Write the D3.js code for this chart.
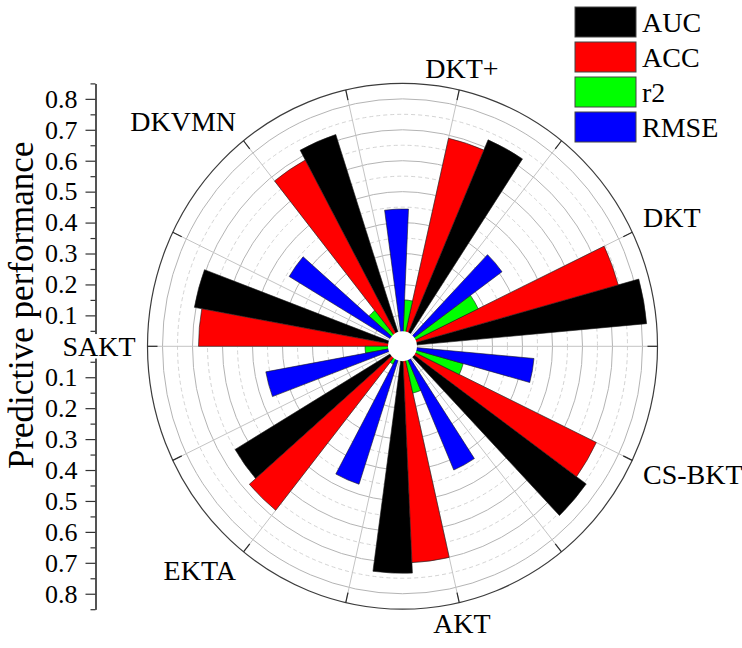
<!DOCTYPE html>
<html>
<head>
<meta charset="utf-8">
<script src="https://cdn.jsdelivr.net/npm/d3@7"></script>
<style>
  html, body { margin: 0; padding: 0; background: #fff; }
  svg { display: block; font-family: "Liberation Serif", "DejaVu Serif", serif; }
</style>
</head>
<body>
<svg id="chart" width="742" height="648"></svg>
<script>
// Knowledge-tracing models around the circle (clockwise from the top)
const categories = ["DKT+", "DKT", "CS-BKT", "AKT", "EKTA", "SAKT", "DKVMN"];
// Metric series, legend order
const seriesNames = ["AUC", "ACC", "r2", "RMSE"];
const seriesColors = ["#000000", "#ff0000", "#00ff00", "#0000ff"];
const aucValues  = [0.726, 0.817, 0.757, 0.734, 0.650, 0.705, 0.720];
const accValues  = [0.690, 0.746, 0.717, 0.700, 0.678, 0.680, 0.684];
const r2Values   = [0.150, 0.280, 0.210, 0.155, 0.066, 0.125, 0.148];
const rmseValues = [0.444, 0.410, 0.440, 0.435, 0.469, 0.463, 0.440];
// Radial axis ticks
const majorTicks = [0.1, 0.2, 0.3, 0.4, 0.5, 0.6, 0.7, 0.8];
const minorTicks = [0.05, 0.15, 0.25, 0.35, 0.45, 0.55, 0.65, 0.75, 0.85];
const radialMax = 0.85;

const seriesValues = [aucValues, accValues, r2Values, rmseValues];

const svg = d3.select("#chart");
const cx = 402.5, cy = 346.3, R = 255, ky = 1.031;
const toRad = Math.PI / 180;

const r = d3.scaleLinear().domain([0, radialMax]).range([0, R]);

// Angular layout: one band per model, four adjacent bars with one empty slot between groups
const step = 360 / categories.length;
const angle = d3.scaleBand().domain(categories).range([-step / 4, 360 - step / 4]).padding(0);
const sub = d3.scaleBand().domain(["RMSE", "r2", "ACC", "AUC"]).range([0, step])
  .paddingInner(0).paddingOuter(0.5);

const polar = svg.append("g").attr("transform", `translate(${cx},${cy}) scale(1,${ky})`);

// Concentric grid circles
polar.selectAll("circle.minor").data(minorTicks.filter(v => v < radialMax)).join("circle")
  .attr("r", d => r(d)).attr("fill", "none").attr("stroke", "#d4d4d4")
  .attr("stroke-width", 1).attr("stroke-dasharray", "4,3")
  .attr("vector-effect", "non-scaling-stroke");
polar.selectAll("circle.major").data(majorTicks).join("circle")
  .attr("r", d => r(d)).attr("fill", "none").attr("stroke", "#b4b4b4")
  .attr("stroke-width", 1).attr("vector-effect", "non-scaling-stroke");

// Spokes at every category centre and boundary
const spokeAngles = d3.range(categories.length * 2).map(k => step / 4 + k * step / 2);
polar.selectAll("line.spoke").data(spokeAngles).join("line")
  .attr("x1", 0).attr("y1", 0)
  .attr("x2", d => R * Math.sin(d * toRad)).attr("y2", d => -R * Math.cos(d * toRad))
  .attr("stroke", "#c4c4c4").attr("stroke-width", 1)
  .attr("vector-effect", "non-scaling-stroke");

// Bars
const arc = d3.arc();
const bars = [];
categories.forEach((c, i) => {
  seriesNames.forEach((s, j) => {
    const a0 = angle(c) + sub(s);
    bars.push({
      cat: c, series: s, color: seriesColors[j], value: seriesValues[j][i],
      start: a0 * toRad, end: (a0 + sub.bandwidth()) * toRad
    });
  });
});
polar.selectAll("path.bar").data(bars).join("path")
  .attr("class", "bar")
  .attr("d", d => arc({ innerRadius: 0, outerRadius: r(d.value), startAngle: d.start, endAngle: d.end }))
  .attr("fill", d => d.color)
  .attr("stroke", "#1a1a1a").attr("stroke-width", 0.6)
  .attr("vector-effect", "non-scaling-stroke");

// Centre hole
polar.append("circle").attr("r", 14.5).attr("fill", "#fff");

// Outer ring and angular ticks
polar.append("circle").attr("r", R).attr("fill", "none")
  .attr("stroke", "#3c3c3c").attr("stroke-width", 1.2)
  .attr("vector-effect", "non-scaling-stroke");
polar.selectAll("line.atick").data(spokeAngles).join("line")
  .attr("x1", d => (R - 10) * Math.sin(d * toRad)).attr("y1", d => -(R - 10) * Math.cos(d * toRad))
  .attr("x2", d => R * Math.sin(d * toRad)).attr("y2", d => -R * Math.cos(d * toRad))
  .attr("stroke", "#2a2a2a").attr("stroke-width", 1.2)
  .attr("vector-effect", "non-scaling-stroke");

// Vertical radial axis on the left, mirrored about the centre
const axisX = 95.5;
const yUp = d3.scaleLinear().domain([0, radialMax]).range([cy, cy - R * ky]);
const yDown = d3.scaleLinear().domain([0, radialMax]).range([cy, cy + R * ky]);
const fmt = d3.format(".1f");
[yUp, yDown].forEach(sc => {
  const gMaj = svg.append("g").attr("transform", `translate(${axisX},0)`)
    .call(d3.axisLeft(sc).tickValues(majorTicks).tickFormat(fmt).tickSize(10).tickSizeOuter(0).tickPadding(8));
  const gMin = svg.append("g").attr("transform", `translate(${axisX},0)`)
    .call(d3.axisLeft(sc).tickValues(minorTicks).tickFormat("").tickSize(5).tickSizeOuter(0));
  [gMaj, gMin].forEach(g => {
    g.select(".domain").attr("stroke", "#333").attr("stroke-width", 1.2);
    g.selectAll(".tick line").attr("stroke", "#333").attr("stroke-width", 1.2);
  });
  gMaj.selectAll(".tick text")
    .attr("font-family", "Liberation Serif, serif").attr("font-size", 26).attr("fill", "#000");
});

// Axis title
svg.append("text")
  .attr("transform", `translate(33,${cy - 41}) rotate(-90)`)
  .attr("text-anchor", "middle")
  .attr("font-size", 35).attr("fill", "#000")
  .text("Predictive performance");

// Category labels: anchored just outside the ring, aligned away from it
const labelFont = 28, labelR = R + 12, capH = labelFont * 0.66;
categories.forEach(c => {
  const th = (angle(c) + angle.bandwidth() / 2) * toRad;
  const ux = Math.sin(th), uy = -Math.cos(th);
  const ax = cx + labelR * ux, ay = cy + labelR * uy * ky;
  const anchor = Math.abs(ux) < 0.4 ? "middle" : (ux > 0 ? "start" : "end");
  const y = uy < -0.3 ? ay : (uy > 0.3 ? ay + capH : ay + capH / 2);
  const bg = svg.append("rect").attr("fill", "#fff");
  const t = svg.append("text").attr("text-anchor", anchor)
    .attr("x", ax).attr("y", y)
    .attr("font-size", labelFont).attr("fill", "#000").text(c);
  // white backing so a label sits cleanly over the radial axis line
  const b = t.node().getBBox();
  bg.attr("x", b.x - 1).attr("y", y - capH - 3).attr("width", b.width + 2).attr("height", capH + 6);
});

// Legend
const legend = svg.append("g").attr("transform", "translate(575,7)");
seriesNames.forEach((s, j) => {
  const g = legend.append("g").attr("transform", `translate(0,${j * 35})`);
  g.append("rect").attr("width", 61).attr("height", 30)
    .attr("fill", seriesColors[j]).attr("stroke", "#444").attr("stroke-width", 1);
  g.append("text").attr("x", 67).attr("y", 25)
    .attr("font-size", 28).attr("fill", "#000").text(s);
});
</script>
</body>
</html>
